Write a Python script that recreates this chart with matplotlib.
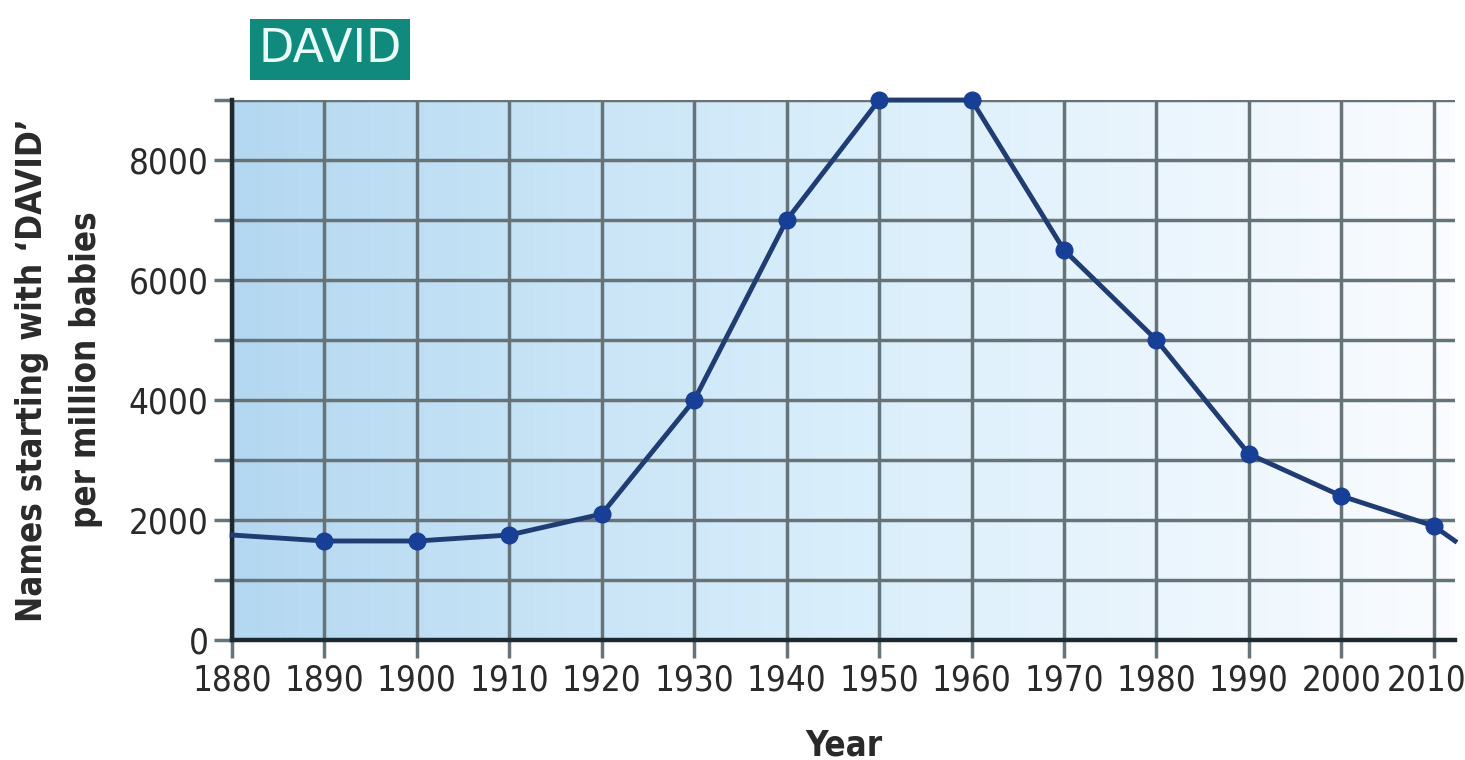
import numpy as np
import matplotlib
matplotlib.use('Agg')
from matplotlib import pyplot as plt
from matplotlib.transforms import ScaledTranslation
from matplotlib.colors import LinearSegmentedColormap

years = [1880, 1890, 1900, 1910, 1920, 1930, 1940, 1950, 1960, 1970, 1980, 1990, 2000, 2010, 2012.3]
values = [1750, 1650, 1650, 1750, 2100, 4000, 7000, 9000, 9000, 6500, 5000, 3100, 2400, 1900, 1650]
marker_years = years[1:-1]
marker_values = values[1:-1]
xticks = list(range(1880, 2011, 10))
yticks = [0, 2000, 4000, 6000, 8000]

plt.rcParams['font.family'] = ['DejaVu Sans']
plt.rcParams['font.stretch'] = 'condensed'

fig = plt.figure(figsize=(14.65, 7.6), dpi=100)
ax = fig.add_axes([0.1584, 0.1579, 0.8348, 0.7105])

# background gradient
cmap = LinearSegmentedColormap.from_list('bg', ['#b4d8f1', '#d9eefb', '#fafcff'])
grad = np.linspace(0, 1, 256).reshape(1, -1)
ax.imshow(grad, extent=[1880, 2012.3, 0, 9000], aspect='auto', cmap=cmap, zorder=0)

ax.set_xlim(1880, 2012.3)
ax.set_ylim(0, 9000)

ax.set_xticks(xticks)
ax.set_yticks(range(0, 9001, 1000))
ax.set_yticklabels([str(v) if v in yticks else '' for v in range(0, 9001, 1000)])
ax.set_xticklabels([str(v) for v in xticks])

ax.grid(True, color='#66747a', linewidth=2.5, zorder=1)
for s in ['top', 'right']:
    ax.spines[s].set_visible(False)
for s in ['left', 'bottom']:
    ax.spines[s].set_color('#1c2a30')
    ax.spines[s].set_linewidth(3.2)
    ax.spines[s].set_zorder(3)

ax.tick_params(axis='both', direction='out', length=13, width=2.5, color='#66747a',
               labelsize=25, labelcolor='#2a2a2a', pad=4)

# keep the last year label inside the figure
last = ax.get_xticklabels()[-1]
last.set_transform(last.get_transform() + ScaledTranslation(-7 / 100, 0, fig.dpi_scale_trans))

ax.plot(years, values, color='#1f3c73', linewidth=3.5, zorder=4, clip_on=False)
ax.plot(marker_years, marker_values, 'o', color='#173f96', markersize=12, zorder=5, clip_on=False)

ax.set_xlabel('Year', fontsize=25, color='#2a2a2a', labelpad=22, fontweight='bold')
ax.set_ylabel("Names starting with \u2018DAVID\u2019\nper million babies", fontsize=25,
              color='#2a2a2a', labelpad=18, linespacing=1.75, fontweight='bold')

fig.text(0.2253, 0.935, 'DAVID', fontsize=33, color='#e8fbf6', ha='center', va='center',
         family=['DejaVu Sans'], stretch='normal',
         bbox=dict(boxstyle='square,pad=0.18', facecolor='#0f8a7c', edgecolor='none'))

plt.savefig('out.png', dpi=100)
